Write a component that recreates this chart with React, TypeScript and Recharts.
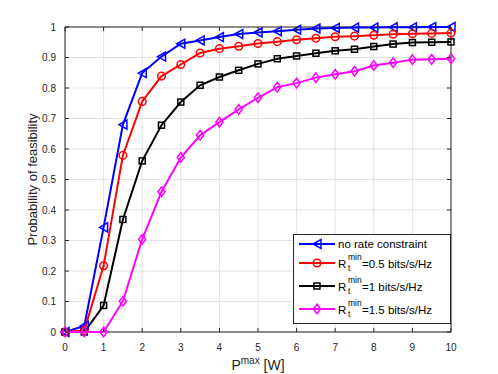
import React from "react";
import { CartesianGrid, Legend, Line, LineChart, ReferenceArea, XAxis, YAxis } from "recharts";

const P_MAX = [0, 0.5, 1, 1.5, 2, 2.5, 3, 3.5, 4, 4.5, 5, 5.5, 6, 6.5, 7, 7.5, 8, 8.5, 9, 9.5, 10];
const NO_RATE = [0, 0.02, 0.343, 0.68, 0.849, 0.903, 0.945, 0.956, 0.967, 0.977, 0.982, 0.986, 0.991, 0.995, 0.997, 0.998, 0.998, 0.999, 0.999, 1.0, 1.0];
const R_05 = [0, 0.005, 0.217, 0.579, 0.756, 0.839, 0.877, 0.915, 0.929, 0.937, 0.946, 0.952, 0.958, 0.963, 0.968, 0.97, 0.973, 0.976, 0.978, 0.979, 0.98];
const R_1 = [0, 0, 0.087, 0.369, 0.561, 0.678, 0.754, 0.809, 0.836, 0.858, 0.879, 0.896, 0.905, 0.914, 0.922, 0.927, 0.936, 0.944, 0.949, 0.95, 0.951];
const R_15 = [0, 0, 0, 0.101, 0.304, 0.46, 0.572, 0.645, 0.688, 0.73, 0.768, 0.803, 0.816, 0.834, 0.845, 0.855, 0.874, 0.883, 0.893, 0.894, 0.896];

const X_TICKS = [0, 1, 2, 3, 4, 5, 6, 7, 8, 9, 10];
const Y_TICKS = [0, 0.1, 0.2, 0.3, 0.4, 0.5, 0.6, 0.7, 0.8, 0.9, 1];

const SERIES = [
  { key: "none", label: "no rate constraint", rate: null, color: "#0000ff", marker: "triangle" },
  { key: "r05", label: "=0.5 bits/s/Hz", rate: true, color: "#ff0000", marker: "circle" },
  { key: "r1", label: "=1 bits/s/Hz", rate: true, color: "#000000", marker: "square" },
  { key: "r15", label: "=1.5 bits/s/Hz", rate: true, color: "#ff00ff", marker: "diamond" },
] as const;

const data = P_MAX.map((p, i) => ({ p, none: NO_RATE[i], r05: R_05[i], r1: R_1[i], r15: R_15[i] }));

const W = 498;
const H = 374;
const PLOT_LEFT = 65;
const PLOT_RIGHT = 451;
const PLOT_TOP = 27;
const PLOT_BOTTOM = 332;
const AXIS = "#262626";
const FONT = "'Liberation Sans', Arial, Helvetica, sans-serif";

function Marker({ cx, cy, type, color }: { cx: number; cy: number; type: string; color: string }) {
  const common = { fill: "none", stroke: color, strokeWidth: 1.5 };
  if (type === "triangle") {
    return <polygon points={`${cx - 4},${cy} ${cx + 4},${cy - 4.5} ${cx + 4},${cy + 4.5}`} {...common} />;
  }
  if (type === "circle") return <circle cx={cx} cy={cy} r={3.8} {...common} />;
  if (type === "square") return <rect x={cx - 3} y={cy - 3} width={6} height={6} {...common} />;
  return <polygon points={`${cx},${cy - 4.8} ${cx + 3.6},${cy} ${cx},${cy + 4.8} ${cx - 3.6},${cy}`} {...common} />;
}

function XTick({ x, payload }: any) {
  return (
    <g>
      <line x1={x} x2={x} y1={PLOT_BOTTOM} y2={PLOT_BOTTOM - 4} stroke={AXIS} />
      <line x1={x} x2={x} y1={PLOT_TOP} y2={PLOT_TOP + 4} stroke={AXIS} />
      <text x={x} y={PLOT_BOTTOM + 19} textAnchor="middle" fontSize={10} fill={AXIS} fontFamily={FONT}>
        {payload.value}
      </text>
    </g>
  );
}

function YTick({ y, payload }: any) {
  return (
    <g>
      <line x1={PLOT_LEFT} x2={PLOT_LEFT + 4} y1={y} y2={y} stroke={AXIS} />
      <line x1={PLOT_RIGHT - 4} x2={PLOT_RIGHT} y1={y} y2={y} stroke={AXIS} />
      <text x={PLOT_LEFT - 9} y={y + 3.5} textAnchor="end" fontSize={10} fill={AXIS} fontFamily={FONT}>
        {payload.value}
      </text>
    </g>
  );
}

function XLabel({ viewBox }: any) {
  const cx = viewBox.x + viewBox.width / 2;
  return (
    <text x={cx} y={370} textAnchor="middle" fontSize={14} fill={AXIS} fontFamily={FONT}>
      P
      <tspan dy={-6} fontSize={10}>max</tspan>
      <tspan dy={6}> [W]</tspan>
    </text>
  );
}

function YLabel() {
  const cy = (PLOT_TOP + PLOT_BOTTOM) / 2;
  return (
    <text
      x={37}
      y={cy}
      transform={`rotate(-90 37 ${cy})`}
      textAnchor="middle"
      fontSize={13}
      fill={AXIS}
      fontFamily={FONT}
    >
      Probability of feasibility
    </text>
  );
}

function LegendBox() {
  const rowY = [244, 263, 286, 309];
  return (
    <svg width={158} height={91} style={{ display: "block" }}>
      <rect x={0.5} y={0.5} width={157} height={89} fill="#ffffff" stroke={AXIS} />
      {SERIES.map((s, i) => {
        const y = rowY[i] - 234;
        return (
          <g key={s.key}>
            <line x1={6} x2={42} y1={y} y2={y} stroke={s.color} strokeWidth={2} />
            <Marker cx={24} cy={y} type={s.marker} color={s.color} />
            {s.rate ? (
              <g fontFamily={FONT} fill="#000">
                <text x={45} y={y + 4.5} fontSize={11.5}>R</text>
                <text x={55} y={y - 3} fontSize={8.5}>min</text>
                <text x={55} y={y + 8} fontSize={8.5}>t</text>
                <text x={69} y={y + 4.5} fontSize={11.5}>{s.label}</text>
              </g>
            ) : (
              <text x={45} y={y + 4} fontSize={11.5} fontFamily={FONT} fill="#000">{s.label}</text>
            )}
          </g>
        );
      })}
    </svg>
  );
}

export default function App() {
  return (
    <div style={{ position: "fixed", left: 0, top: 0, width: W, height: H, background: "#fff" }}>
      <LineChart
        width={W}
        height={H}
        data={data}
        margin={{ top: PLOT_TOP, right: W - PLOT_RIGHT, bottom: 0, left: 0 }}
      >
        <CartesianGrid stroke="#e3e3e3" strokeWidth={1} horizontalValues={Y_TICKS} verticalValues={X_TICKS} />
        <XAxis
          dataKey="p"
          type="number"
          domain={[0, 10]}
          ticks={X_TICKS}
          height={H - PLOT_BOTTOM}
          axisLine={false}
          tickLine={false}
          tick={<XTick />}
          label={<XLabel />}
        />
        <YAxis
          type="number"
          domain={[0, 1]}
          ticks={Y_TICKS}
          width={PLOT_LEFT}
          axisLine={false}
          tickLine={false}
          tick={<YTick />}
          label={<YLabel />}
        />
        <ReferenceArea x1={0} x2={10} y1={0} y2={1} fill="none" stroke={AXIS} strokeWidth={1} />
        {SERIES.map((s) => (
          <Line
            key={s.key}
            dataKey={s.key}
            stroke={s.color}
            strokeWidth={2}
            isAnimationActive={false}
            dot={(props: any) => (
              <Marker key={`${s.key}-${props.index}`} cx={props.cx} cy={props.cy} type={s.marker} color={s.color} />
            )}
          />
        ))}
        <Legend
          layout="vertical"
          align="center"
          verticalAlign="middle"
          content={() => <LegendBox />}
          wrapperStyle={{ position: "absolute", left: 293, top: 234, width: 158, height: 91 }}
        />
      </LineChart>
    </div>
  );
}
